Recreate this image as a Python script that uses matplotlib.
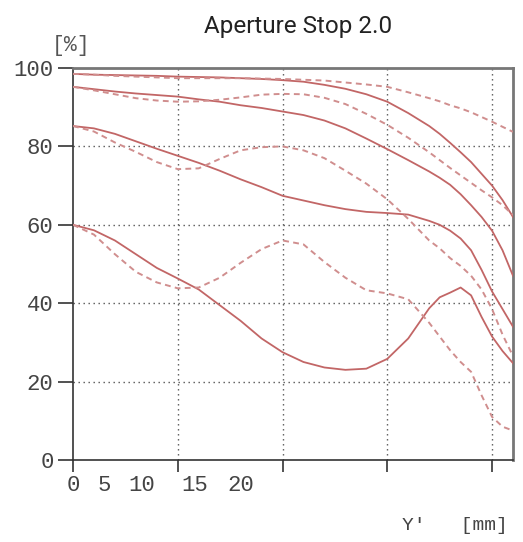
import matplotlib
matplotlib.use('Agg')
import matplotlib.pyplot as plt
import matplotlib.transforms as mtransforms

# image height Y' [mm]
xs = [0, 1, 2, 3, 4, 5, 6, 7, 8, 9, 10, 11, 12, 13, 14, 15, 16,
      17, 17.5, 18, 18.5, 19, 19.5, 20, 20.5, 21]

# solid curves (sagittal)
solid1 = [98.5, 98.3, 98.2, 98.1, 98.0, 97.8, 97.7, 97.6, 97.4, 97.2, 96.9, 96.5, 95.7,
          94.7, 93.3, 91.4, 88.5, 85.2, 83.2, 80.9, 78.5, 76.0, 73.0, 70.0, 66.3, 62.0]
solid2 = [95.2, 94.6, 94.0, 93.5, 93.1, 92.7, 92.0, 91.4, 90.5, 89.8, 88.9, 88.0, 86.6,
          84.6, 82.0, 79.3, 76.5, 73.6, 72.0, 70.2, 67.8, 65.0, 62.0, 58.5, 53.5, 47.0]
solid3 = [85.2, 84.6, 83.2, 81.3, 79.4, 77.6, 75.8, 73.8, 71.6, 69.6, 67.4, 66.2, 65.0,
          64.0, 63.3, 63.0, 62.6, 61.0, 60.0, 58.5, 56.5, 53.5, 48.5, 43.0, 38.5, 34.0]
solid4 = [60.0, 58.6, 56.0, 52.5, 49.0, 46.3, 43.5, 39.5, 35.5, 31.0, 27.5, 25.0, 23.6,
          23.0, 23.3, 25.8, 31.0, 38.7, 41.5, 42.7, 44.0, 42.0, 36.5, 31.5, 27.8, 24.7]

# dashed curves (meridional)
dashed1 = [98.5, 98.3, 98.0, 97.8, 97.6, 97.4, 97.4, 97.4, 97.4, 97.3, 97.2, 97.0, 96.8,
           96.3, 95.8, 95.2, 93.8, 92.3, 91.5, 90.5, 89.7, 88.7, 87.5, 86.3, 85.0, 83.7]
dashed2 = [95.2, 94.3, 93.3, 92.3, 91.7, 91.4, 91.5, 91.9, 92.5, 93.2, 93.4, 93.3, 92.4,
           90.8, 88.3, 85.5, 82.2, 78.5, 76.5, 74.5, 72.6, 70.7, 68.8, 67.0, 65.0, 62.5]
dashed3 = [85.2, 83.8, 81.0, 78.6, 76.0, 74.2, 74.4, 76.8, 79.0, 79.8, 80.0, 79.0, 77.0,
           73.8, 70.5, 66.5, 61.5, 56.0, 54.0, 51.5, 49.5, 47.0, 43.5, 38.5, 32.0, 26.5]
dashed4 = [60.0, 57.5, 52.5, 48.0, 45.3, 43.8, 44.0, 46.5, 50.3, 53.8, 56.0, 55.0, 50.5,
           46.5, 43.3, 42.5, 41.0, 35.0, 31.5, 28.0, 25.0, 22.5, 16.5, 11.0, 8.5, 7.5]

yticks = [0, 20, 40, 60, 80, 100]
xgrid = [0, 5, 10, 15, 20]
xlabels = ['0', '5', '10', '15', '20']
xlabel_pos = [0, 1.5, 3.3, 5.8, 8.0]

mono = 'Liberation Mono'

fig = plt.figure(figsize=(5.23, 5.42), dpi=100)
ax = fig.add_axes([73 / 523, 82 / 542, 440 / 523, 392 / 542])

solidColor = '#c26666'
dashColor = '#d08e8e'
for ys in [solid1, solid2, solid3, solid4]:
    ax.plot(xs, ys, color=solidColor, lw=1.3, zorder=3)
for ys in [dashed1, dashed2, dashed3, dashed4]:
    ax.plot(xs, ys, color=dashColor, lw=1.4, dashes=(3, 2.2), zorder=3)

ax.set_xlim(0, 21)
ax.set_ylim(0, 100)

# dotted grid
for v in xgrid[1:]:
    ax.axvline(v, color='#555555', lw=1, ls=(0, (1, 2.6)), zorder=1)
for v in yticks[1:-1]:
    ax.axhline(v, color='#555555', lw=1, ls=(0, (1, 2.6)), zorder=1)

ax.set_yticks(yticks)
ax.set_yticklabels([str(v) for v in yticks], fontfamily=mono, fontsize=16, color='#444444')
ax.set_xticks(xgrid)
ax.set_xticklabels([''] * len(xgrid))
ax.tick_params(axis='y', length=11, width=1.2, color='#333333', pad=3)
ax.tick_params(axis='x', length=8.5, width=1.2, color='#333333')

for s in ['left', 'bottom']:
    ax.spines[s].set_color('#333333')
    ax.spines[s].set_linewidth(1.2)
for s in ['top', 'right']:
    ax.spines[s].set_color('#777777')
    ax.spines[s].set_linewidth(2)

# squeezed x tick labels as in the original
trans = mtransforms.blended_transform_factory(ax.transData, ax.transAxes)
for pos, lab in zip(xlabel_pos, xlabels):
    ax.text(pos, -0.064, lab, transform=trans, ha='center', va='center',
            fontfamily=mono, fontsize=16, color='#444444')

fig.text(298 / 523, 1 - 27 / 542, 'Aperture Stop 2.0', ha='center', va='center',
         fontfamily='Roboto', fontsize=17.5, color='#222222')
fig.text(71 / 523, 1 - 46 / 542, '[%]', ha='center', va='center',
         fontfamily=mono, fontsize=15.5, color='#555555')
fig.text(455 / 523, 1 - 525 / 542, "Y'   [mm]", ha='center', va='center',
         fontfamily=mono, fontsize=14, color='#444444')

fig.savefig('out.png', dpi=100)
